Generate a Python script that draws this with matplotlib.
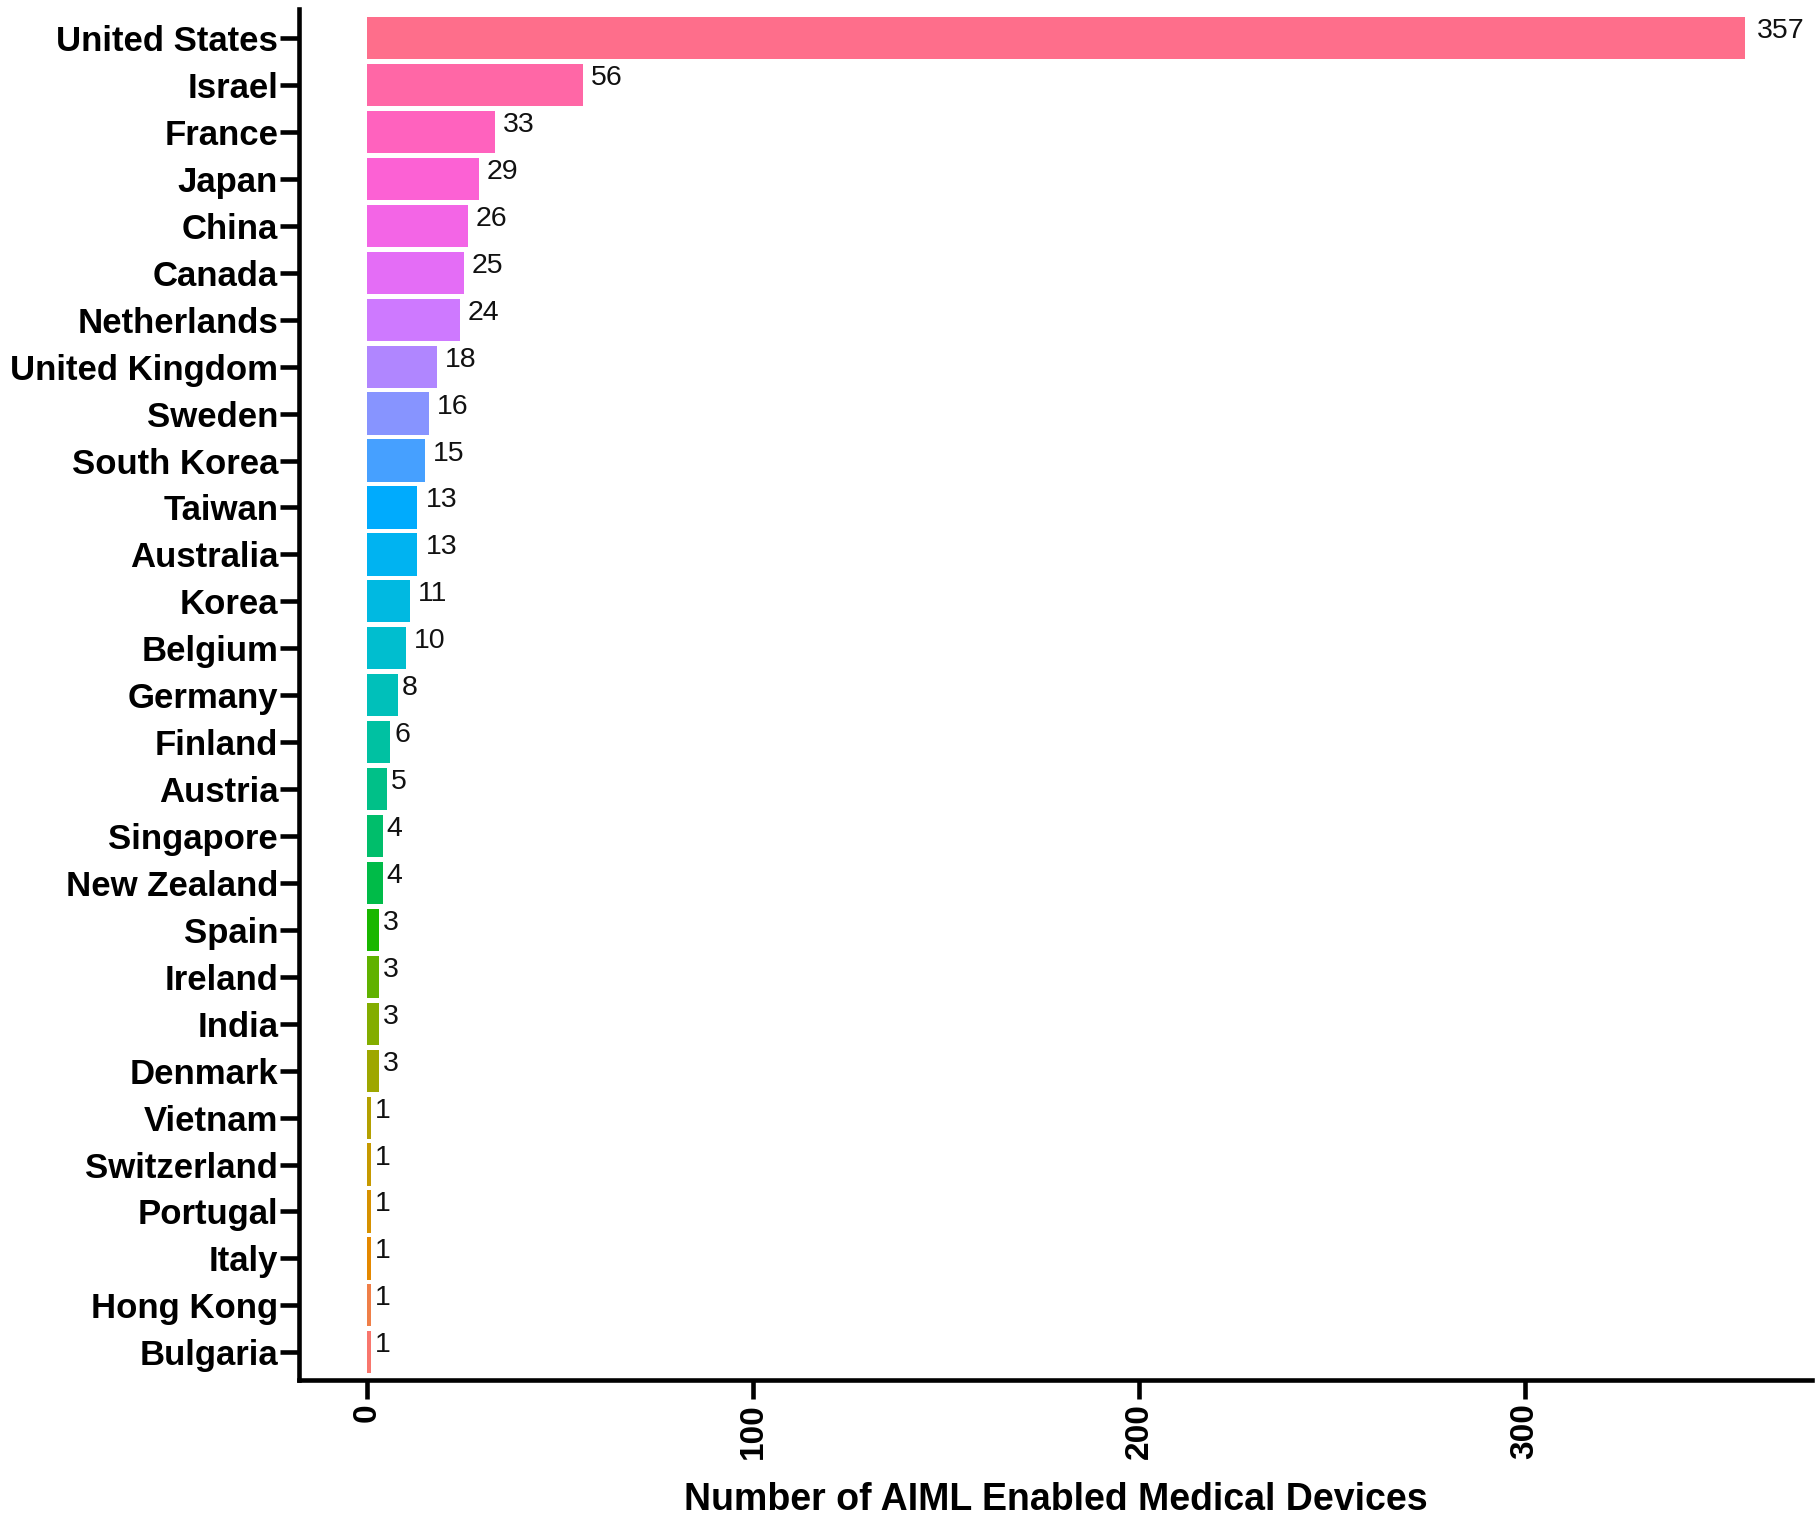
import numpy as np
import matplotlib
matplotlib.use("Agg")
import matplotlib.pyplot as plt

countries = ["United States", "Israel", "France", "Japan", "China", "Canada",
             "Netherlands", "United Kingdom", "Sweden", "South Korea", "Taiwan",
             "Australia", "Korea", "Belgium", "Germany", "Finland", "Austria",
             "Singapore", "New Zealand", "Spain", "Ireland", "India", "Denmark",
             "Vietnam", "Switzerland", "Portugal", "Italy", "Hong Kong", "Bulgaria"]
counts = [357, 56, 33, 29, 26, 25, 24, 18, 16, 15, 13, 13, 11, 10, 8, 6, 5,
          4, 4, 3, 3, 3, 3, 1, 1, 1, 1, 1, 1]
x_ticks = [0, 100, 200, 300]
x_label = "Number of AIML Enabled Medical Devices"


def hcl_to_rgb(h, c=100.0, l=65.0):
    Xn, Yn, Zn = 0.95047, 1.0, 1.08883
    un = 4 * Xn / (Xn + 15 * Yn + 3 * Zn)
    vn = 9 * Yn / (Xn + 15 * Yn + 3 * Zn)
    hr = np.deg2rad(h)
    u = c * np.cos(hr)
    v = c * np.sin(hr)
    Y = ((l + 16) / 116) ** 3 if l > 8 else l / 903.3
    up = u / (13 * l) + un
    vp = v / (13 * l) + vn
    X = Y * 9 * up / (4 * vp)
    Z = Y * (12 - 3 * up - 20 * vp) / (4 * vp)
    r = 3.2406 * X - 1.5372 * Y - 0.4986 * Z
    g = -0.9689 * X + 1.8758 * Y + 0.0415 * Z
    b = 0.0557 * X - 0.2040 * Y + 1.0570 * Z

    def gam(t):
        t = min(max(t, 0.0), 1.0)
        return 12.92 * t if t <= 0.0031308 else 1.055 * t ** (1 / 2.4) - 0.055
    return (gam(r), gam(g), gam(b))


n = len(countries)
hues = np.linspace(15, 375, n + 1)[:n]
palette = [hcl_to_rgb(h) for h in hues]

fig = plt.figure(figsize=(18.16, 15.16), dpi=100)
ax = fig.add_axes([299 / 1816, 1 - 1380 / 1516, (1812 - 299) / 1816, (1380 - 9) / 1516])

ypos = np.arange(n)[::-1]  # United States at top
colors = [palette[int(y)] for y in ypos]
ax.barh(ypos, counts, height=0.9, color=colors, edgecolor="none")

fs_val = 20.5
for y, v in zip(ypos, counts):
    s = str(v)
    off = 0.25 * len(s) * 0.556 * fs_val
    ax.annotate(s, (v, y), xytext=(off, 0), textcoords="offset points",
                ha="left", va="baseline", fontsize=fs_val,
                fontfamily="Liberation Sans", color="#111111")

ax.set_xlim(-17.7, 374.4)
ax.set_ylim(-0.59, n - 1 + 0.62)
ax.set_yticks(ypos)
ax.set_yticklabels(countries, fontsize=25, fontweight="bold", fontfamily="Liberation Sans")
ax.set_xticks(x_ticks)
ax.set_xticklabels([str(t) for t in x_ticks], rotation=90, fontsize=24,
                   fontweight="bold", fontfamily="Liberation Sans", va="top")
ax.set_xlabel(x_label, fontsize=27, fontweight="bold", fontfamily="Liberation Sans", labelpad=16)

for side in ["top", "right"]:
    ax.spines[side].set_visible(False)
for side in ["left", "bottom"]:
    ax.spines[side].set_linewidth(3.3)
ax.tick_params(axis="both", width=3.3, length=14, color="black")
ax.tick_params(axis="y", pad=1)
ax.tick_params(axis="x", pad=3)

fig.savefig("out.png", dpi=100, facecolor="white")
